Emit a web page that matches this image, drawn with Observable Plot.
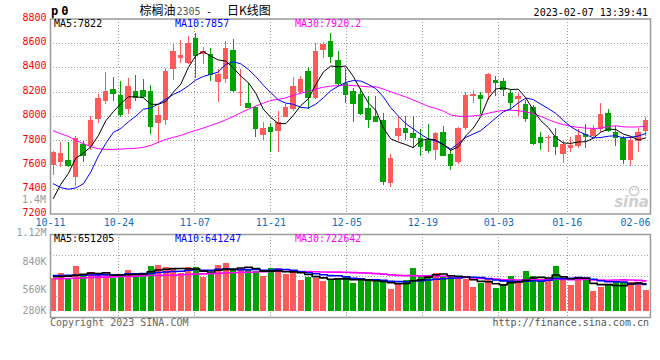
<!DOCTYPE html>
<html><head><meta charset="utf-8">
<script src="https://cdn.jsdelivr.net/npm/d3@7"></script>
<script src="https://cdn.jsdelivr.net/npm/@observablehq/plot@0.6"></script>
<style>
html,body{margin:0;padding:0;background:#fff;}
#chart{position:relative;width:660px;height:360px;overflow:hidden;background:#fff;}
#chart svg{position:absolute;left:0;top:0;}
</style></head>
<body><div id="chart"></div>
<script>
// ---------- data ----------
const opens  = [7596,7625,7640,7497,7772,7757,7976,8126,8221,8172, 8058,8205,8213,8205,7946,7965,8382,8478,8437,8641,
                8512,8505,8281,8300,8538,8191,8107,8076,7845,7910, 7880,7995,8058,8199,8368,8150,8540,8614,8458,8273,
                8205,8180,8063,8000,7968,7447,7839,7899,7864,7818, 7804,7722,7872,7687,7619,7905,8167,8172,8186,8295,
                8287,8191,8142,8101,8074,7831,7818,7840,7692,7741, 7750,7853,7839,7894,8022,7869,7818,7638,7796,7880];
const highs  = [7714,7785,7785,7836,7795,8003,8180,8357,8317,8290, 8314,8336,8300,8254,8085,8396,8603,8622,8657,8677,
                8570,8562,8385,8614,8630,8382,8273,8080,7948,7946, 8041,8096,8322,8328,8398,8597,8608,8677,8535,8390,
                8232,8232,8164,8164,8022,7689,8000,8000,8000,7894, 7932,7867,7918,7728,7913,8199,8213,8200,8350,8330,
                8314,8218,8186,8131,8090,7867,7845,7900,7801,7829, 7894,7935,7927,8107,8055,7918,7839,7831,7905,7992];
const lows   = [7518,7580,7581,7422,7620,7720,7940,8096,8123,7995, 8019,8123,8150,7856,7782,7927,8295,8437,8430,8314,
                8430,8289,8118,8268,8199,8085,8063,7831,7804,7708, 7708,7990,8040,8180,8055,8140,8477,8437,8245,8109,
                7954,8008,7905,7950,7436,7414,7796,7804,7736,7673, 7695,7640,7668,7553,7610,7886,8107,8020,8130,8164,
                8167,8049,8003,7948,7763,7722,7708,7676,7618,7706, 7741,7741,7831,7867,7867,7750,7608,7586,7703,7839];
const closes = [7702,7693,7594,7817,7684,7968,8150,8205,8188,8014, 8246,8158,8164,7921,8009,8368,8532,8499,8600,8499,
                8535,8341,8344,8557,8216,8199,8076,7905,7902,7880, 7949,8071,8248,8303,8153,8532,8589,8494,8273,8183,
                8104,8028,7978,7959,7463,7654,7899,7872,7831,7755, 7722,7859,7676,7600,7899,8172,8180,8150,8344,8280,
                8221,8112,8164,7987,7777,7790,7828,7750,7769,7763, 7845,7839,7894,8017,7886,7831,7649,7801,7872,7968];
const volumes = [702000,757000,708000,825000,734000,763000,741000,734000,708000,747000,
                 783000,757000,741000,825000,834000,815000,789000,750000,812000,812000,
                 718000,750000,834000,854000,805000,792000,783000,776000,728000,805000,
                 805000,741000,766000,689000,718000,702000,679000,698000,708000,718000,
                 660000,686000,676000,669000,686000,598000,643000,686000,805000,728000,
                 728000,757000,728000,718000,702000,692000,621000,653000,695000,611000,
                 637000,728000,686000,773000,728000,663000,702000,825000,686000,637000,
                 702000,686000,579000,621000,637000,663000,669000,669000,669000,588000];
// moving-average values at the start of the window (earlier days are off the chart)
const ma5Lead  = [7327,7444,7532,7659];
const ma10Lead = [7448,7417,7403,7414,7447,7545,7674,7780,7870];
const ma30Lead = [7883,7858,7837,7804,7777,7752,7736,7730,7730,7733,7736,7739,7747,7763,7788,
                  7812,7829,7845,7867,7886,7905,7927,7948,7973,8000,8030,8060,8085,8110];
const volMa5Lead  = [722000,725000,728000,735000];
const volMa10Lead = [734000,734000,736000,737000,738000,739000,740000,741000,741000];
const volMa30Lead = [702000,702000,705000,708000,711000,715000,718000,718000,721000,724000,
                     724000,728000,731000,734000,734000,737000,737000,741000,744000,747000,
                     750000,752000,755000,758000,761000,764000,766000,768000,770000];
const dateLabels = ["10-11","10-24","11-07","11-21","12-05","12-19","01-03","01-16","02-06"];
const dateDays   = [0, 9, 19, 29, 39, 49, 59, 68, 78];
const priceTicks = [7200,7400,7600,7800,8000,8200,8400,8600,8800];
const volTicks   = [280000,560000,840000,1120000];
const volGrid    = [528000,729000,931000];
const volBase    = 387000;
const legendMain = ["MA5:7822","MA10:7857","MA30:7920.2"];
const legendVol  = ["MA5:651205","MA10:641247","MA30:722642"];

// ---------- build ----------
const RED = "#ff5a5a", GREEN = "#00a300";
const MAC = ["#000000", "#0000ff", "#ff00ff"];
const GRID = "#a0a0a0", FRAMEC = "#9a9a9a";
const FONT = "DejaVu Sans Mono, monospace";
const N = closes.length;
const gridPitch = 7.6 / 7.5; // date grid spacing used by the source chart

function ma(arr, k, lead) {
  return arr.map((_, i) => i >= k - 1 ? d3.mean(arr.slice(i - k + 1, i + 1)) : lead[i]);
}
const m5 = ma(closes, 5, ma5Lead), m10 = ma(closes, 10, ma10Lead), m30 = ma(closes, 30, ma30Lead);
const v5 = ma(volumes, 5, volMa5Lead), v10 = ma(volumes, 10, volMa10Lead), v30 = ma(volumes, 30, volMa30Lead);

const data = d3.range(N).map(i => ({
  i, o: opens[i], h: highs[i], l: lows[i], c: closes[i], v: volumes[i],
  m5: m5[i], m10: m10[i], m30: m30[i], v5: v5[i], v10: v10[i], v30: v30[i]
}));
const col = d => d.c >= d.o ? RED : GREEN;
const dates = dateLabels.map((s, k) => ({s, g: dateDays[k] * gridPitch}));
const innerDates = dates.slice(1, -1);

const common = {
  width: 660, height: 360, marginLeft: 50, marginRight: 10,
  style: {fontFamily: FONT, fontSize: "10px", background: "transparent", overflow: "visible"},
  x: {domain: [0, N], axis: null}
};

const main = Plot.plot({
  ...common, marginTop: 18.5, marginBottom: 146.5,
  y: {domain: [7200, 8800], axis: null},
  marks: [
    Plot.ruleY(priceTicks.slice(1, -1), {stroke: GRID, strokeDasharray: "1,2", shapeRendering: "crispEdges"}),
    Plot.ruleX(innerDates, {x: "g", stroke: GRID, strokeDasharray: "1,2", shapeRendering: "crispEdges"}),
    Plot.ruleX(data, {x: d => d.i + 0.375, y1: "l", y2: "h", stroke: col, shapeRendering: "crispEdges"}),
    Plot.rect(data, {x1: "i", x2: d => d.i + 0.75, y1: "o", y2: "c", fill: col, shapeRendering: "crispEdges"}),
    Plot.ruleY(data, {y: "c", x1: "i", x2: d => d.i + 0.75, stroke: col, shapeRendering: "crispEdges"}),
    Plot.line(data, {x: d => d.i + 0.375, y: "m30", stroke: MAC[2], strokeWidth: 1}),
    Plot.line(data, {x: d => d.i + 0.375, y: "m10", stroke: MAC[1], strokeWidth: 1}),
    Plot.line(data, {x: d => d.i + 0.375, y: "m5", stroke: MAC[0], strokeWidth: 1}),
    Plot.frame({stroke: FRAMEC, strokeWidth: 1.5}),
    Plot.text(priceTicks, {y: d => d, text: d => String(d), frameAnchor: "left", textAnchor: "end",
      dx: -4, dy: -1.5, fill: "#ff0000"}),
    Plot.text(dates, {x: d => Math.min(d.g, N - 2), text: "s", frameAnchor: "bottom", lineAnchor: "bottom",
      dy: 11.5, fill: "#0a6fc6"})
  ]
});

const fmtVol = d => d >= 1e6 ? (d / 1e6) + "M" : (d / 1e3) + "K";
const vol = Plot.plot({
  ...common, marginTop: 234, marginBottom: 43,
  y: {domain: [325900, 1132500], axis: null},
  marks: [
    Plot.ruleY(volGrid, {stroke: GRID, strokeDasharray: "1,2", shapeRendering: "crispEdges"}),
    Plot.ruleX(innerDates, {x: "g", stroke: GRID, strokeDasharray: "1,2", shapeRendering: "crispEdges"}),
    Plot.rect(data, {x1: "i", x2: d => d.i + 0.8, y1: volBase, y2: "v", fill: col, shapeRendering: "crispEdges"}),
    Plot.line(data, {x: d => d.i + 0.4, y: "v30", stroke: MAC[2], strokeWidth: 1.6, curve: "step"}),
    Plot.line(data, {x: d => d.i + 0.4, y: "v10", stroke: MAC[1], strokeWidth: 1.6, curve: "step"}),
    Plot.line(data, {x: d => d.i + 0.4, y: "v5", stroke: MAC[0], strokeWidth: 1.6, curve: "step"}),
    Plot.frame({stroke: FRAMEC, strokeWidth: 1.5}),
    Plot.text(volTicks, {y: d => Math.max(d, 356000), text: fmtVol, frameAnchor: "left", textAnchor: "end",
      lineAnchor: "bottom", dx: -4, fill: "#999"})
  ]
});

// ---------- static texts ----------
const ov = d3.create("svg").attr("width", 660).attr("height", 360)
  .attr("font-family", FONT).attr("font-size", 10);
function txt(x, y, s, opt = {}) {
  const t = ov.append("text").attr("x", x).attr("y", y).text(s);
  for (const k in opt) t.attr(k, opt[k]);
  return t;
}
const CJK = "Noto Sans CJK SC";
txt(51, 15.3, "p0", {"font-weight": "bold", "font-size": 12, "letter-spacing": 3});
txt(139.5, 14.5, "棕榈油", {"font-family": CJK, "font-size": 12});
txt(176.5, 14.5, "2305", {fill: "#555"});
txt(206, 14.5, "-", {});
txt(227, 14.5, "日K线图", {"font-family": CJK, "font-size": 12});
txt(648, 16, "2023-02-07 13:39:41", {"text-anchor": "end"});
const legendX = [54, 175, 295];
legendMain.forEach((s, k) => txt(legendX[k], 27.3, s, {fill: MAC[k]}));
legendVol.forEach((s, k) => txt(legendX[k], 241.7, s, {fill: MAC[k]}));
txt(46, 203.3, "1.4M", {"text-anchor": "end", fill: "#999"});
txt(50, 326, "Copyright 2023 SINA.COM", {fill: "#666"});
txt(649, 326, "http://finance.sina.com.cn", {"text-anchor": "end", fill: "#555"});
ov.append("circle").attr("cx", 634).attr("cy", 191).attr("r", 4.5)
  .attr("fill", "none").attr("stroke", "#d4d4d4").attr("stroke-width", 2);
txt(649, 207, "sina", {"text-anchor": "end", "font-family": "DejaVu Sans", "font-size": 15,
  "font-weight": "bold", "font-style": "italic", fill: "#cfcfcf"});

const root = document.getElementById("chart");
root.appendChild(main);
root.appendChild(vol);
root.appendChild(ov.node());
</script>
</body></html>
